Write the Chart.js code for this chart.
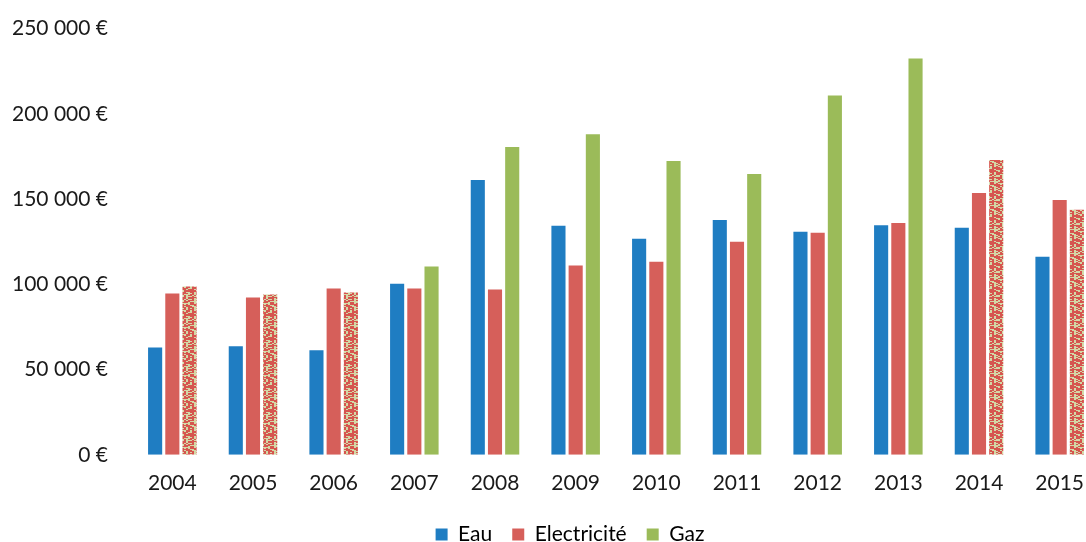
<!DOCTYPE html>
<html>
<head>
<title>Eau Electricité Gaz</title>
<script src="https://cdn.jsdelivr.net/npm/chart.js"></script>
<style>
body{
  margin:0;
  background:white;
  overflow:hidden;
}
.wrap{
  width:1100px;
  height:542px;
}
</style>
</head>
<body>

<div class="wrap"><canvas id="chart"></canvas></div>

<script>
// ================= DATA =================
const years = ["2004","2005","2006","2007","2008","2009","2010","2011","2012","2013","2014","2015"];
const eau = [63000, 63700, 61300, 100400, 161200, 134300, 126700, 137800, 130800, 134600, 133200, 116200];
const electricite = [94600, 92300, 97500, 97500, 96900, 111000, 113300, 125000, 130200, 136000, 153600, 149500];
const gaz = [98700, 94000, 95200, 110400, 180500, 188000, 172300, 164700, 210800, 232400, 172900, 143700];
const yTicks = [0, 50000, 100000, 150000, 200000, 250000];
// Gaz bars that look speckled in the scan
const speckled = [0, 1, 2, 10, 11];

function euro(v){
  return v.toLocaleString("fr-FR").replace(/\s/g," ") + " €";
}

// ================= SPECKLE TEXTURE =================
function speckle(){
  const c = document.createElement("canvas");
  c.width = 16; c.height = 24;
  const g = c.getContext("2d");
  g.fillStyle = "#d3d8a6";
  g.fillRect(0,0,16,24);
  let s = 7;
  for(let y=0;y<24;y++){
    for(let x=0;x<16;x+=2){
      s = (s*1103515245 + 12345) % 2147483648;
      if(s % 100 < 64){
        g.fillStyle = "#d6554f";
        g.fillRect(x,y,2,1);
      }
    }
  }
  return g.createPattern(c,"repeat");
}
const pat = speckle();
const gazColors = gaz.map((v,i)=> speckled.includes(i) ? pat : '#9bbb59');

Chart.defaults.font.family = "Lato, 'Open Sans', sans-serif";
Chart.defaults.color = "#1a1a1a";

// nudge the legend a bit right, as in the original
const legendShift = {
  id:'legendShift',
  afterUpdate(chart){
    chart.legend.left += 14;
    chart.legend.right += 14;
  }
};

new Chart(document.getElementById("chart"),{
  type:'bar',
  data:{
    labels:years,
    datasets:[
      {label:'Eau', data:eau, backgroundColor:'#1f7dc2'},
      {label:'Electricité', data:electricite, backgroundColor:'#d65f5a'},
      {label:'Gaz', data:gaz, backgroundColor:gazColors}
    ]
  },
  plugins:[legendShift],
  options:{
    responsive:true,
    maintainAspectRatio:false,
    animation:false,
    layout:{padding:{top:-3, left:12, right:0, bottom:-13}},
    datasets:{bar:{categoryPercentage:0.64, barPercentage:0.82}},
    plugins:{
      legend:{
        position:'bottom',
        labels:{
          boxWidth:12, boxHeight:12, padding:20, font:{size:21},
          generateLabels:chart=>chart.data.datasets.map((d,i)=>({
            text:d.label,
            fillStyle:['#1f7dc2','#d65f5a','#9bbb59'][i],
            strokeStyle:'transparent',
            lineWidth:0,
            datasetIndex:i
          }))
        }
      },
      tooltip:{enabled:false}
    },
    scales:{
      x:{
        grid:{display:false},
        border:{display:false},
        ticks:{font:{size:21}, padding:8}
      },
      y:{
        min:0, max:250000,
        afterBuildTicks:axis=>{ axis.ticks = yTicks.map(v=>({value:v})); },
        afterFit:axis=>{ axis.width = 120; },
        grid:{display:false},
        border:{display:false},
        ticks:{font:{size:21}, padding:16, callback:v=>euro(v)}
      }
    }
  }
});
</script>

</body>
</html>
